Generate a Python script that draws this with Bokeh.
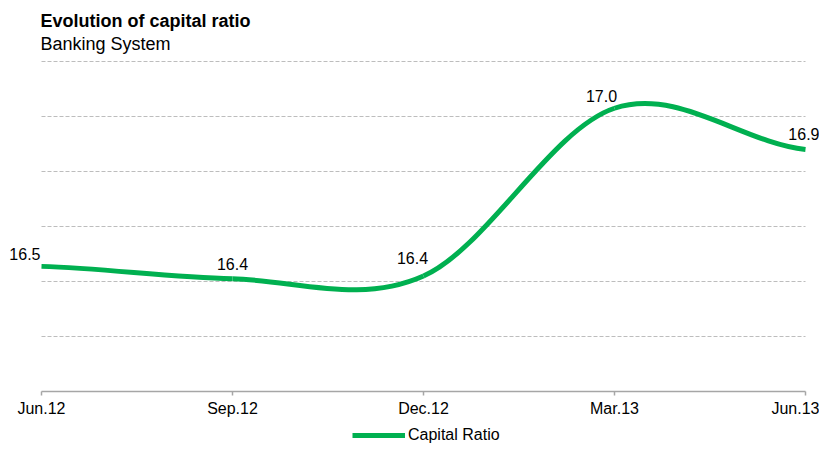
from bokeh.plotting import figure
from bokeh.models import Range1d, FixedTicker, Label, Legend, LegendItem
from bokeh.embed import file_html
from bokeh.resources import INLINE

# ---- data ----
categories = ["Jun.12", "Sep.12", "Dec.12", "Mar.13", "Jun.13"]
capital_ratio = [16.455, 16.41, 16.42, 17.03, 16.88]
grid_ticks = [16.2, 16.4, 16.6, 16.8, 17.0, 17.2]
axis_base = 16.0
title_text = "Evolution of capital ratio"
subtitle_text = "Banking System"
series_name = "Capital Ratio"

# ---- layout / style (pixels) ----
W, H = 819, 443
PLOT_L, PLOT_R, PLOT_T, PLOT_B = 41, 805, 61, 391
# label placement (style only): (x_offset px, y_offset px, align)
label_style = [(-1, 12, "right"), (0, 15, "center"), (-11, 18, "center"),
               (-13, 12, "center"), (14, 16, "right")]
FONT = "Liberation Sans"
GREEN = "#00b050"
AXIS_GRAY = "#a6a6a6"

xs = list(range(len(categories)))
n = len(xs)

# ranges chosen so that the data area sits at PLOT_* inside a full-canvas frame
xpx = (PLOT_R - PLOT_L) / (n - 1)
ypx = (PLOT_B - PLOT_T) / (grid_ticks[-1] - axis_base)
x_range = Range1d(xs[0] - PLOT_L / xpx, xs[-1] + (W - PLOT_R) / xpx)
y_range = Range1d(axis_base - (H - PLOT_B) / ypx, grid_ticks[-1] + PLOT_T / ypx)

p = figure(width=W, height=H, x_range=x_range, y_range=y_range,
           output_backend="svg", toolbar_location=None, title=None,
           min_border=0, min_border_left=0, min_border_right=0,
           min_border_top=0, min_border_bottom=0)
p.outline_line_color = None
p.background_fill_color = "white"
p.border_fill_color = "white"
p.xgrid.visible = False
p.ygrid.visible = False
p.yaxis.visible = False

# dashed horizontal gridlines across the data area
p.segment(x0=[xs[0]] * len(grid_ticks), y0=grid_ticks, x1=[xs[-1]] * len(grid_ticks),
          y1=grid_ticks, line_color="#bdbdbd", line_dash="4 2", line_width=1)

# category axis at the base value
ax = p.xaxis[0]
ax.fixed_location = axis_base
ax.bounds = (xs[0], xs[-1])
ax.ticker = FixedTicker(ticks=xs)
ax.major_label_overrides = {i: c for i, c in enumerate(categories)}
ax.axis_line_color = AXIS_GRAY
ax.axis_line_width = 1.5
ax.major_tick_line_color = AXIS_GRAY
ax.major_tick_line_width = 1.5
ax.major_tick_in = 0
ax.major_tick_out = 4
ax.minor_tick_line_color = None
ax.major_label_text_font = FONT
ax.major_label_text_font_size = "16px"
ax.major_label_text_color = "#000000"
ax.major_label_standoff = 4

# smoothed line (cardinal spline as cubic Bezier segments through the data points)
ys = capital_ratio
m = []
for i in range(n):
    a = ys[max(i - 1, 0)]
    b = ys[min(i + 1, n - 1)]
    m.append((b - a) / 2.0)
r = p.bezier(x0=xs[:-1], y0=ys[:-1], x1=xs[1:], y1=ys[1:],
             cx0=[xs[i] + 1 / 3 for i in range(n - 1)],
             cy0=[ys[i] + m[i] / 3 for i in range(n - 1)],
             cx1=[xs[i + 1] - 1 / 3 for i in range(n - 1)],
             cy1=[ys[i + 1] - m[i + 1] / 3 for i in range(n - 1)],
             line_color=GREEN, line_width=5, line_cap="butt", line_join="round")

# data labels
for i in range(n):
    dx, dy, al = label_style[i]
    p.add_layout(Label(x=xs[i], y=ys[i], text=f"{ys[i]:.1f}", x_offset=dx, y_offset=dy,
                       text_align=al, text_baseline="middle", text_font=FONT,
                       text_font_size="16px", text_color="#000000"))

# title and subtitle
p.add_layout(Label(x=40, y=H - 20, x_units="screen", y_units="screen", text=title_text,
                   text_align="left", text_baseline="middle", text_font=FONT,
                   text_font_size="18px", text_font_style="bold", text_color="#000000"))
p.add_layout(Label(x=40, y=H - 43, x_units="screen", y_units="screen", text=subtitle_text,
                   text_align="left", text_baseline="middle", text_font=FONT,
                   text_font_size="18px", text_color="#000000"))

# legend
legend = Legend(items=[LegendItem(label=series_name, renderers=[r])], location=(352, -1),
                orientation="horizontal", glyph_width=53, glyph_height=18, label_height=18,
                label_standoff=3, padding=0, margin=0, spacing=0, border_line_color=None,
                background_fill_alpha=0, label_text_font=FONT, label_text_font_size="16px",
                label_text_color="#000000")
p.add_layout(legend)

open("out.html", "w").write(file_html(p, INLINE))
